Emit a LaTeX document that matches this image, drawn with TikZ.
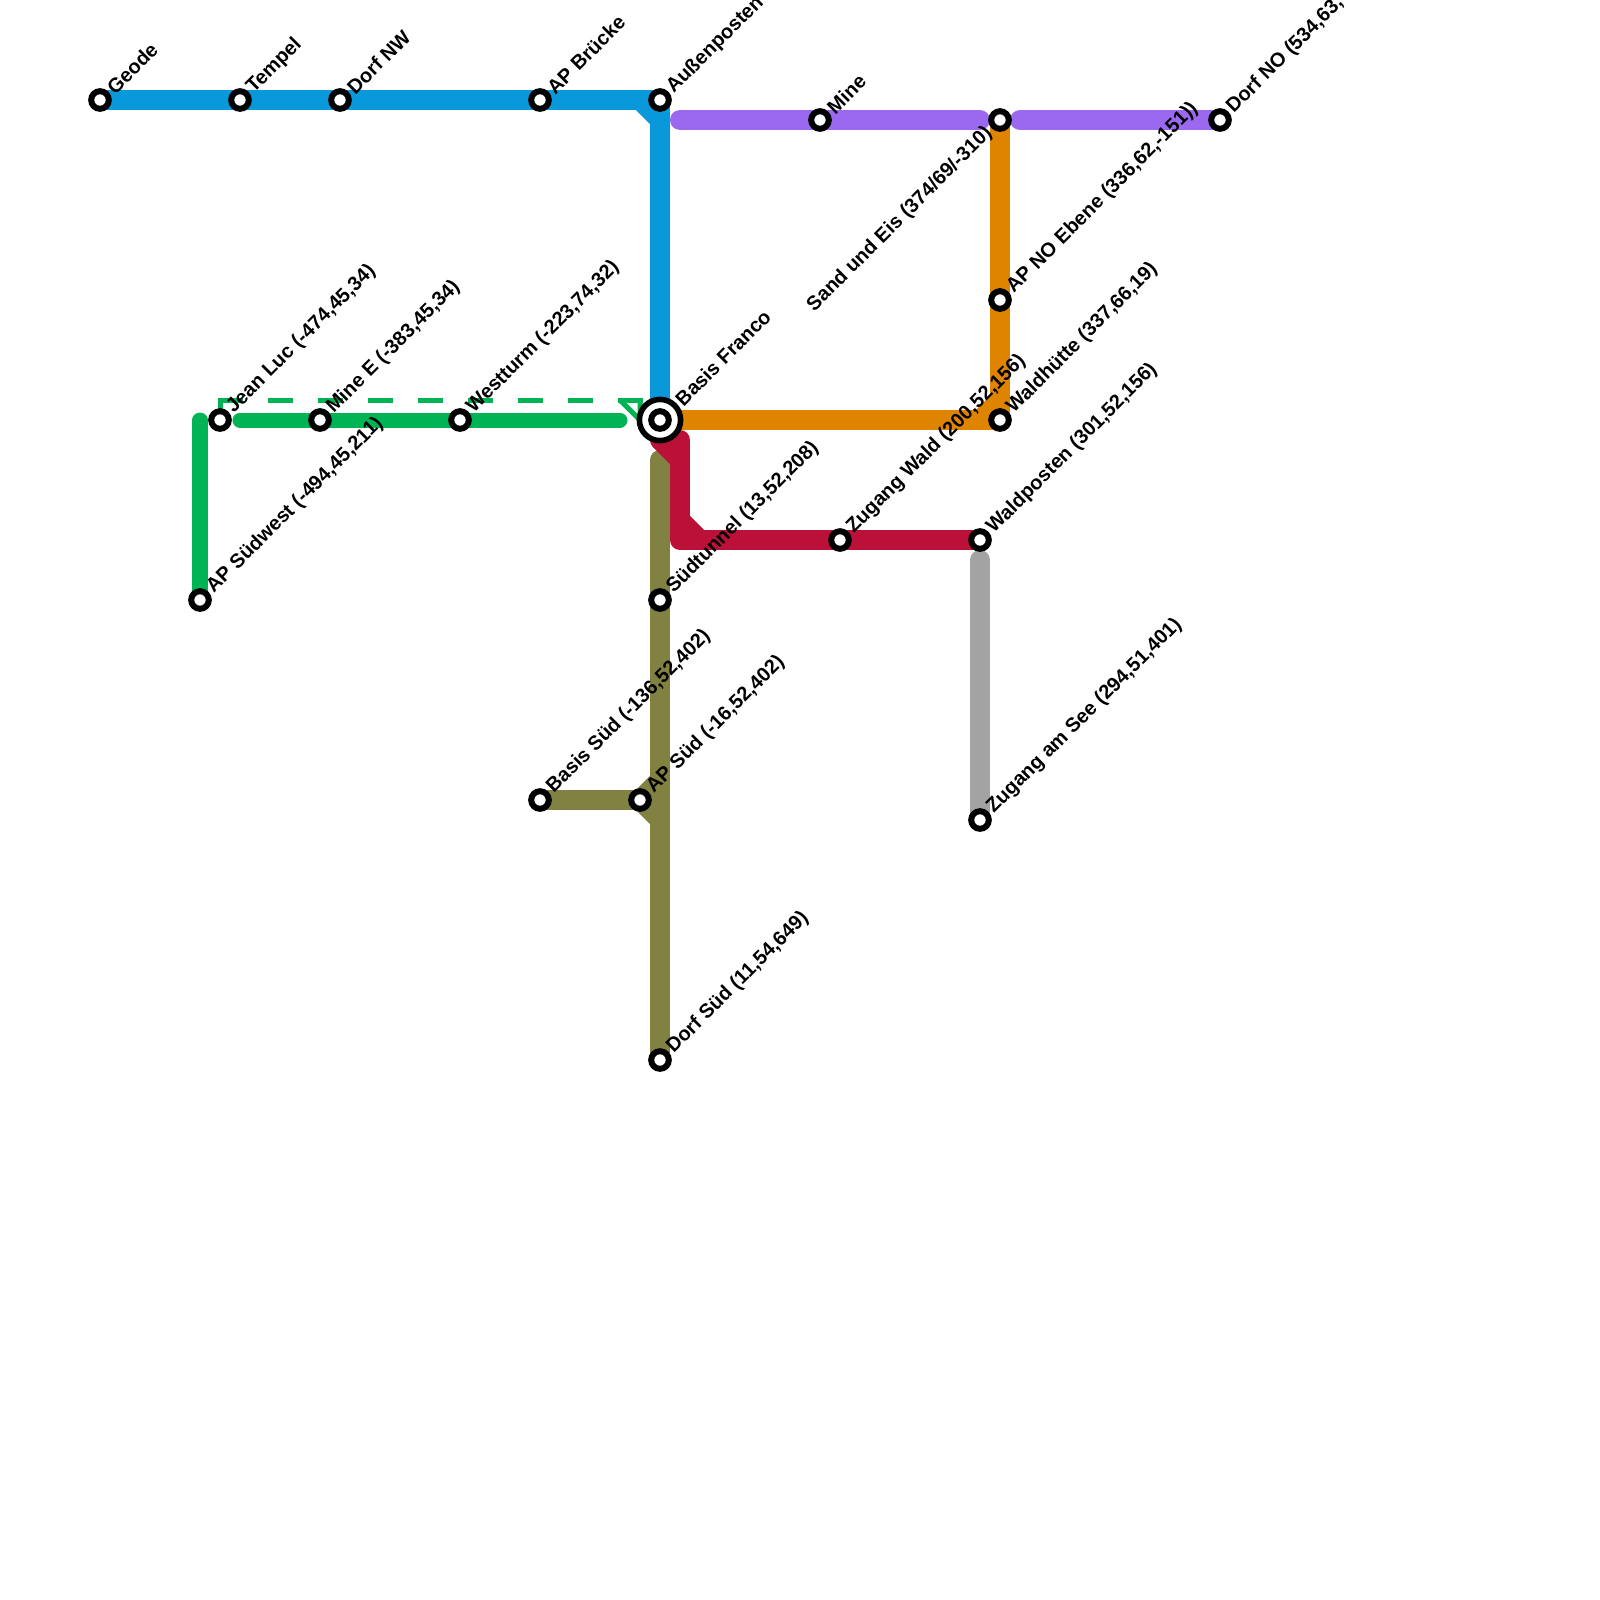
\documentclass[tikz,border=0pt]{standalone}
\usepackage{fontspec}
\setmainfont{Liberation Sans}
\usetikzlibrary{backgrounds}
\definecolor{linebasis}{RGB}{9,153,218}
\definecolor{linewest}{RGB}{0,179,84}
\definecolor{lineeast}{RGB}{222,132,0}
\definecolor{linesouth}{RGB}{187,17,56}
\definecolor{linedeep}{RGB}{129,129,65}
\definecolor{linemine}{RGB}{155,105,240}
\definecolor{linelake}{RGB}{163,163,163}
\tikzset{
  stn/.style={circle, draw=black, fill=white, line width=0.15cm, minimum size=0.44cm, inner sep=0pt},
  hubouter/.style={circle, draw=black, fill=white, line width=0.14cm, minimum size=1.03cm, inner sep=0pt},
  stnlabel/.style={rotate=45, anchor=west, inner sep=0pt, label distance=3pt, xshift=-0.6pt, yshift=-2.4pt,
    font=\fontsize{14.2}{16}\selectfont\bfseries},
  metro/.style={line width=0.5cm, line cap=round, line join=round},
  bevel/.style={line width=0.5cm},
  thin line/.style={line width=0.375cm, line cap=round},
  dashline/.style={draw=linewest, line width=0.125cm}
}

\begin{document}
\begin{tikzpicture}[x=0.025cm, y=-0.025cm]
  \useasboundingbox (0,0) rectangle (1600,1600);

  \node[stn, label={[stnlabel]45:Geode}] (geode) at (100,100) {};
  \node[stn, label={[stnlabel]45:Tempel}] (tempel) at (240,100) {};
  \node[stn, label={[stnlabel]45:Dorf NW}] (dorfnw) at (340,100) {};
  \node[stn, label={[stnlabel]45:AP Brücke}] (apbruecke) at (540,100) {};
  \node[stn, label={[stnlabel]45:Außenposten}] (aussen) at (660,100) {};
  \node[stn, label={[stnlabel]45:Mine}] (mine) at (820,120) {};
  \node[stn, label={[stnlabel, anchor=east, xshift=0.5pt, yshift=4.8pt]225:Sand und Eis (374/69/-310)}] (sand) at (1000,120) {};
  \node[stn, label={[stnlabel]45:Dorf NO (534,63,}] (dorfno) at (1220,120) {};
  \node[stn, label={[stnlabel]45:AP NO Ebene (336,62,-151))}] (apno) at (1000,300) {};
  \node[stn, label={[stnlabel]45:Waldhütte (337,66,19)}] (waldhuette) at (1000,420) {};
  \node[stn, label={[stnlabel]45:Jean Luc (-474,45,34)}] (jeanluc) at (220,420) {};
  \node[stn, label={[stnlabel]45:Mine E (-383,45,34)}] (minee) at (320,420) {};
  \node[stn, label={[stnlabel]45:Westturm (-223,74,32)}] (westturm) at (460,420) {};
  \node[hubouter, label={[stnlabel]45:Basis Franco}] (basis) at (660,420) {};
  \node[stn] (basisinner) at (basis.center) {};
  \node[stn, label={[stnlabel]45:AP Südwest (-494,45,211)}] (apsw) at (200,600) {};
  \node[stn, label={[stnlabel]45:Südtunnel (13,52,208)}] (suedtunnel) at (660,600) {};
  \node[stn, label={[stnlabel]45:Zugang Wald (200,52,156)}] (zugangwald) at (840,540) {};
  \node[stn, label={[stnlabel]45:Waldposten (301,52,156)}] (waldposten) at (980,540) {};
  \node[stn, label={[stnlabel]45:Basis Süd (-136,52,402)}] (basissued) at (540,800) {};
  \node[stn, label={[stnlabel]45:AP Süd (-16,52,402)}] (apsued) at (640,800) {};
  \node[stn, label={[stnlabel]45:Zugang am See (294,51,401)}] (zugangsee) at (980,820) {};
  \node[stn, label={[stnlabel]45:Dorf Süd (11,54,649)}] (dorfsued) at (660,1060) {};

  \coordinate (bluea) at (640,100);
  \coordinate (blueb) at (660,120);
  \coordinate (greena) at (240,420);
  \coordinate (greenb) at (620,420);
  \coordinate (greenc) at (200,420);
  \coordinate (dasha) at (217.5,400);
  \coordinate (dashb) at (642.5,400);
  \coordinate (dashc) at (220,400);
  \coordinate (dashd) at (620,400);
  \coordinate (dashe) at (640,400);
  \coordinate (dashf) at (640,420);
  \coordinate (orangea) at (980,420);
  \coordinate (orangeb) at (1000,400);
  \coordinate (orangec) at (1000,420);
  \coordinate (reda) at (660,440);
  \coordinate (redb) at (680,440);
  \coordinate (redc) at (680,460);
  \coordinate (redd) at (680,540);
  \coordinate (rede) at (680,520);
  \coordinate (redf) at (700,540);
  \coordinate (olivea) at (660,460);
  \coordinate (oliveb) at (660,780);
  \coordinate (olivec) at (660,820);
  \coordinate (purplea) at (680,120);
  \coordinate (purpleb) at (980,120);
  \coordinate (purplec) at (1020,120);
  \coordinate (greya) at (980,560);

  \begin{scope}[on background layer]
    \draw[metro, linedeep] (olivea) -- (dorfsued.center);
    \draw[metro, linedeep] (basissued.center) -- (apsued.center);
    \draw[bevel, linedeep] (apsued.center) -- (oliveb);
    \draw[bevel, linedeep] (apsued.center) -- (olivec);
    \draw[metro, linebasis] (geode.center) -- (aussen.center) -- (basis.center);
    \draw[bevel, linebasis] (bluea) -- (blueb);
    \draw[dashline] (jeanluc.center) -- (dashc);
    \draw[dashline, dash pattern=on 0.625cm off 0.625cm] (dasha) -- (dashb);
    \draw[dashline] (dashd) -- (dashf) -- (dashe);
    \draw[thin line, linewest] (apsw.center) -- (greenc);
    \draw[thin line, linewest] (greena) -- (greenb);
    \draw[metro, lineeast] (basis.center) -- (orangec) -- (sand.center);
    \draw[bevel, lineeast] (orangea) -- (orangeb);
    \draw[metro, linesouth] (reda) -- (redb) -- (redd) -- (waldposten.center);
    \draw[bevel, linesouth] (reda) -- (redc);
    \draw[bevel, linesouth] (rede) -- (redf);
    \draw[metro, linemine] (purplea) -- (purpleb);
    \draw[metro, linemine] (purplec) -- (dorfno.center);
    \draw[metro, linelake] (greya) -- (zugangsee.center);
  \end{scope}
\end{tikzpicture}
\end{document}
